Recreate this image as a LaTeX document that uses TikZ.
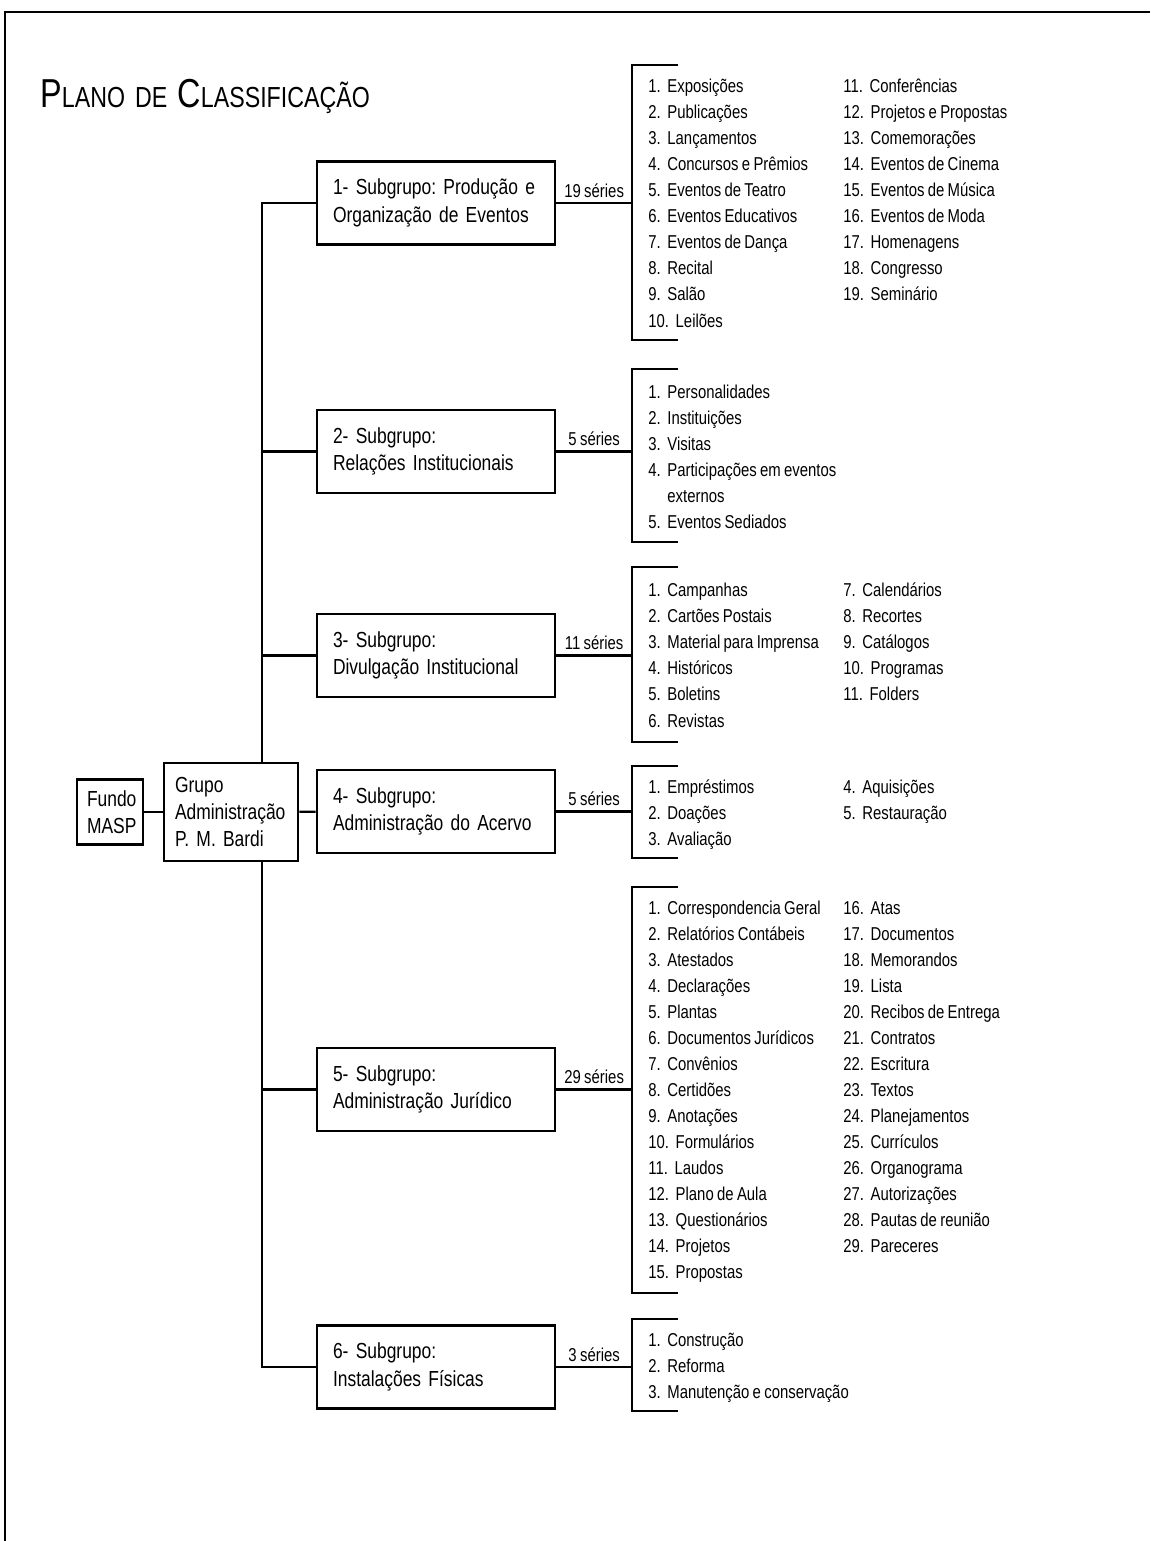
\documentclass[tikz,border=0pt]{standalone}
\usepackage{fontspec}
\setmainfont{Liberation Sans}[FakeStretch=0.8,WordSpace=0.8]
\tikzset{
  box/.style={draw,line width=1.5pt,inner xsep=3.2mm,inner ysep=0pt,align=left,
    font=\fontsize{12.4}{15.5}\selectfont},
  subbox/.style={box,minimum width=47.6mm,text width=41.2mm,minimum height=16.6mm},
  serie/.style={anchor=west,inner sep=0pt,text height=1.55ex,text depth=0.45ex,
    font=\fontsize{10.6}{13}\selectfont},
  conn/.style={line width=1.3pt},
}
\frenchspacing
\begin{document}
\frenchspacing
\begin{tikzpicture}[x=0.2mm,y=-0.2mm]
  \useasboundingbox (0,0) rectangle (1150,1541);
  \draw[line width=0.45mm] (5,1541) -- (5,12) -- (1150,12);
  \node[anchor=base west,inner sep=0pt] (title) at (40,108)
    {\fontsize{23}{25}\selectfont P\fontsize{16.5}{18}\selectfont LANO\hspace{0.35em}DE\hspace{0.35em}%
     \fontsize{23}{25}\selectfont C\fontsize{16.5}{18}\selectfont LASSIFICAÇÃO};

  \node[box,text width=9.2mm,inner xsep=2mm,minimum height=13mm] (fundo) at (110,812)
    {Fundo\\MASP};
  \node[box,text width=22.4mm,inner xsep=2.2mm,minimum height=19.6mm] (grupo) at (231,812)
    {Grupo\\Administração\\P. M. Bardi};

  \node[subbox] (sub1) at (436,203) {1- Subgrupo: Produção e\\Organização de Eventos};
  \node[subbox] (sub2) at (436,451.5) {2- Subgrupo:\\Relações Institucionais};
  \node[subbox] (sub3) at (436,655.5) {3- Subgrupo:\\Divulgação Institucional};
  \node[subbox] (sub4) at (436,811.5) {4- Subgrupo:\\Administração do Acervo};
  \node[subbox] (sub5) at (436,1089.5) {5- Subgrupo:\\Administração Jurídico};
  \node[subbox] (sub6) at (436,1367) {6- Subgrupo:\\Instalações Físicas};

  \coordinate (trunk) at (262,812);
  \draw[conn] (fundo) -- (grupo);
  \draw[conn] (grupo) -- (sub4);
  \draw[conn] (sub1.west) -| (trunk |- grupo.north);
  \draw[conn] (grupo.south -| trunk) |- (sub6.west);
  \foreach \s in {2,3,5}
    \draw[conn] (sub\s.west) -- (sub\s.west -| trunk);

  \foreach \s/\t/\b in {1/65/340,2/369/542,3/567/742,4/766/858,5/887/1293,6/1319/1411} {
    \coordinate (top\s) at (632,\t);
    \coordinate (bot\s) at (632,\b);
    \draw[conn] (top\s) ++(46,0) -- (top\s) -- (bot\s) -- ++(46,0);
  }
  \foreach \s/\n in {1/19,2/5,3/11,4/5,5/29,6/3}
    \draw[conn] (sub\s.east) -- (sub\s.east -| top\s)
      node[midway,above,inner sep=2.5pt,font=\fontsize{10.6}{13}\selectfont] {\n\ séries};

  \foreach \t [count=\i] in {Exposições,Publicações,Lançamentos,Concursos e Prêmios,
      Eventos de Teatro,Eventos Educativos,Eventos de Dança,Recital,Salão,Leilões}
    \node[serie] (s1a\i) at (648,{87+26.1*(\i-1)}) {\i.~ \t};
  \foreach \t [count=\i from 11] in {Conferências,Projetos e Propostas,Comemorações,
      Eventos de Cinema,Eventos de Música,Eventos de Moda,Homenagens,Congresso,Seminário}
    \node[serie] (s1b\i) at (843,{87+26.1*(\i-11)}) {\i.~ \t};

  \foreach \t/\y [count=\i] in {Personalidades/393,Instituições/419,Visitas/445,
      Participações em eventos/471,Eventos Sediados/523}
    \node[serie] (s2a\i) at (648,\y) {\i.~ \t};
  \node[serie] (s2x) at (648,497) {\hphantom{4.~ }externos};

  \foreach \t [count=\i] in {Campanhas,Cartões Postais,Material para Imprensa,
      Históricos,Boletins,Revistas}
    \node[serie] (s3a\i) at (648,{591+26.2*(\i-1)}) {\i.~ \t};
  \foreach \t [count=\i from 7] in {Calendários,Recortes,Catálogos,Programas,Folders}
    \node[serie] (s3b\i) at (843,{591+26.2*(\i-7)}) {\i.~ \t};

  \foreach \t [count=\i] in {Empréstimos,Doações,Avaliação}
    \node[serie] (s4a\i) at (648,{788+26*(\i-1)}) {\i.~ \t};
  \foreach \t [count=\i from 4] in {Aquisições,Restauração}
    \node[serie] (s4b\i) at (843,{788+26*(\i-4)}) {\i.~ \t};

  \foreach \t [count=\i] in {Correspondencia Geral,Relatórios Contábeis,Atestados,
      Declarações,Plantas,Documentos Jurídicos,Convênios,Certidões,Anotações,
      Formulários,Laudos,Plano de Aula,Questionários,Projetos,Propostas}
    \node[serie] (s5a\i) at (648,{909+26.05*(\i-1)}) {\i.~ \t};
  \foreach \t [count=\i from 16] in {Atas,Documentos,Memorandos,Lista,
      Recibos de Entrega,Contratos,Escritura,Textos,Planejamentos,Currículos,
      Organograma,Autorizações,Pautas de reunião,Pareceres}
    \node[serie] (s5b\i) at (843,{909+26.05*(\i-16)}) {\i.~ \t};

  \foreach \t [count=\i] in {Construção,Reforma,Manutenção e conservação}
    \node[serie] (s6a\i) at (648,{1341+26*(\i-1)}) {\i.~ \t};
\end{tikzpicture}
\end{document}
